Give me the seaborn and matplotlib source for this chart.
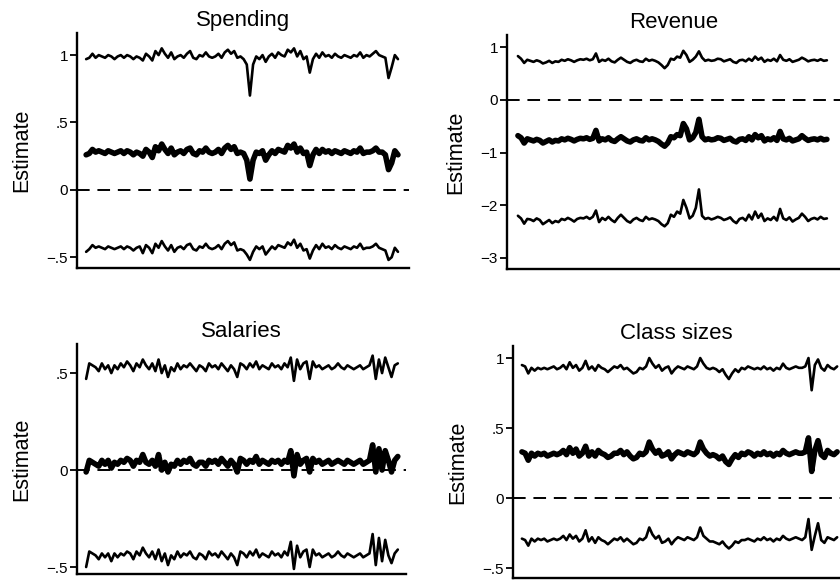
import numpy as np
import pandas as pd
import matplotlib
matplotlib.use("Agg")
import matplotlib.pyplot as plt
import seaborn as sns

# ---------------- data ----------------
panels = ["Spending", "Revenue", "Salaries", "Class sizes"]

spending_upper = [0.97, 0.98, 1.01, 0.98, 1.00, 0.99, 0.98, 1.00, 0.99, 0.97,
                  0.99, 1.00, 0.98, 1.00, 0.99, 0.97, 0.99, 0.98, 0.96, 1.01,
                  0.99, 0.96, 1.03, 1.00, 1.05, 1.01, 0.98, 1.02, 0.97, 0.99,
                  1.00, 0.98, 1.01, 1.03, 0.98, 0.97, 1.00, 0.99, 1.02, 0.99,
                  0.98, 0.99, 1.01, 0.98, 1.02, 1.04, 1.01, 1.03, 0.98, 0.99,
                  0.97, 0.93, 0.70, 0.93, 0.99, 0.97, 1.00, 0.95, 0.99, 1.01,
                  0.98, 1.02, 1.00, 0.99, 1.04, 1.02, 1.05, 0.99, 1.03, 0.97,
                  0.99, 0.87, 0.97, 1.01, 0.98, 1.02, 0.99, 1.00, 0.98, 1.01,
                  0.99, 0.98, 1.00, 0.99, 0.98, 1.00, 0.99, 1.02, 0.98, 1.00,
                  0.99, 1.01, 1.03, 1.00, 0.99, 0.98, 0.83, 0.91, 1.00, 0.97]
spending_est = [0.26, 0.27, 0.30, 0.28, 0.29, 0.28, 0.27, 0.29, 0.28, 0.27,
                0.28, 0.29, 0.27, 0.29, 0.28, 0.26, 0.28, 0.27, 0.25, 0.30,
                0.28, 0.24, 0.32, 0.29, 0.34, 0.30, 0.27, 0.31, 0.26, 0.28,
                0.29, 0.27, 0.30, 0.31, 0.27, 0.26, 0.29, 0.28, 0.31, 0.28,
                0.27, 0.28, 0.30, 0.27, 0.31, 0.33, 0.30, 0.32, 0.27, 0.28,
                0.27, 0.22, 0.08, 0.22, 0.28, 0.27, 0.29, 0.22, 0.26, 0.29,
                0.27, 0.30, 0.29, 0.28, 0.33, 0.31, 0.34, 0.28, 0.31, 0.27,
                0.28, 0.18, 0.26, 0.30, 0.27, 0.30, 0.28, 0.29, 0.27, 0.29,
                0.28, 0.27, 0.29, 0.28, 0.27, 0.29, 0.28, 0.31, 0.27, 0.28,
                0.28, 0.29, 0.31, 0.28, 0.28, 0.26, 0.15, 0.20, 0.29, 0.26]
spending_lower = [-0.46, -0.44, -0.41, -0.43, -0.42, -0.43, -0.44, -0.42, -0.43, -0.44,
                  -0.43, -0.42, -0.44, -0.42, -0.43, -0.45, -0.43, -0.42, -0.47, -0.41,
                  -0.43, -0.47, -0.40, -0.43, -0.38, -0.42, -0.45, -0.41, -0.46, -0.43,
                  -0.42, -0.44, -0.41, -0.40, -0.44, -0.45, -0.42, -0.43, -0.40, -0.43,
                  -0.44, -0.43, -0.41, -0.44, -0.40, -0.38, -0.41, -0.39, -0.45, -0.44,
                  -0.45, -0.48, -0.52, -0.46, -0.42, -0.44, -0.42, -0.48, -0.45, -0.42,
                  -0.44, -0.41, -0.42, -0.43, -0.39, -0.41, -0.37, -0.43, -0.40, -0.45,
                  -0.44, -0.51, -0.45, -0.41, -0.44, -0.40, -0.43, -0.42, -0.44, -0.41,
                  -0.43, -0.44, -0.42, -0.43, -0.44, -0.42, -0.43, -0.40, -0.44, -0.43,
                  -0.43, -0.42, -0.40, -0.43, -0.44, -0.45, -0.52, -0.50, -0.43, -0.46]

revenue_upper = [0.83, 0.78, 0.70, 0.76, 0.74, 0.72, 0.75, 0.73, 0.69, 0.71,
                 0.74, 0.70, 0.73, 0.72, 0.76, 0.74, 0.77, 0.75, 0.72, 0.75,
                 0.77, 0.76, 0.78, 0.75, 0.77, 0.88, 0.72, 0.76, 0.74, 0.78,
                 0.73, 0.71, 0.76, 0.80, 0.76, 0.72, 0.70, 0.74, 0.76, 0.73,
                 0.72, 0.78, 0.74, 0.76, 0.74, 0.71, 0.66, 0.60, 0.66, 0.78,
                 0.76, 0.82, 0.80, 0.93, 0.85, 0.72, 0.76, 0.82, 0.92, 0.80,
                 0.74, 0.76, 0.74, 0.75, 0.78, 0.77, 0.73, 0.75, 0.77, 0.72,
                 0.70, 0.75, 0.76, 0.73, 0.78, 0.74, 0.82, 0.76, 0.80, 0.72,
                 0.76, 0.74, 0.78, 0.73, 0.85, 0.76, 0.74, 0.77, 0.72, 0.74,
                 0.76, 0.80, 0.77, 0.73, 0.75, 0.76, 0.74, 0.77, 0.74, 0.75]
revenue_est = [-0.68, -0.72, -0.82, -0.74, -0.76, -0.78, -0.75, -0.77, -0.82, -0.79,
               -0.76, -0.80, -0.77, -0.78, -0.74, -0.76, -0.73, -0.75, -0.78, -0.75,
               -0.73, -0.74, -0.72, -0.75, -0.73, -0.58, -0.78, -0.74, -0.76, -0.72,
               -0.77, -0.79, -0.74, -0.70, -0.74, -0.78, -0.80, -0.76, -0.74, -0.77,
               -0.78, -0.72, -0.76, -0.74, -0.76, -0.79, -0.84, -0.88, -0.82, -0.70,
               -0.72, -0.66, -0.68, -0.45, -0.55, -0.76, -0.72, -0.62, -0.37, -0.70,
               -0.76, -0.74, -0.76, -0.75, -0.72, -0.73, -0.77, -0.75, -0.73, -0.78,
               -0.80, -0.75, -0.74, -0.77, -0.70, -0.76, -0.66, -0.72, -0.68, -0.78,
               -0.74, -0.76, -0.72, -0.77, -0.60, -0.74, -0.76, -0.73, -0.78, -0.76,
               -0.74, -0.68, -0.73, -0.77, -0.75, -0.74, -0.76, -0.73, -0.76, -0.75]
revenue_lower = [-2.20, -2.25, -2.35, -2.26, -2.27, -2.30, -2.25, -2.28, -2.36, -2.32,
                 -2.28, -2.34, -2.30, -2.32, -2.26, -2.28, -2.24, -2.27, -2.31, -2.26,
                 -2.24, -2.25, -2.22, -2.26, -2.22, -2.10, -2.32, -2.24, -2.28, -2.22,
                 -2.28, -2.32, -2.24, -2.18, -2.24, -2.30, -2.33, -2.27, -2.24, -2.28,
                 -2.30, -2.22, -2.27, -2.25, -2.27, -2.30, -2.36, -2.40, -2.34, -2.18,
                 -2.22, -2.12, -2.16, -1.90, -2.05, -2.25, -2.20, -2.05, -1.70, -2.20,
                 -2.26, -2.24, -2.27, -2.25, -2.22, -2.24, -2.28, -2.26, -2.23, -2.30,
                 -2.34, -2.26, -2.24, -2.29, -2.18, -2.27, -2.12, -2.24, -2.16, -2.30,
                 -2.25, -2.28, -2.22, -2.29, -2.07, -2.25, -2.28, -2.23, -2.31, -2.27,
                 -2.24, -2.16, -2.22, -2.30, -2.26, -2.24, -2.27, -2.22, -2.26, -2.25]

salaries_upper = [0.47, 0.55, 0.54, 0.53, 0.51, 0.55, 0.52, 0.54, 0.50, 0.54,
                  0.52, 0.55, 0.53, 0.56, 0.54, 0.51, 0.55, 0.53, 0.57, 0.54,
                  0.52, 0.55, 0.51, 0.57, 0.50, 0.54, 0.48, 0.53, 0.51, 0.55,
                  0.52, 0.54, 0.53, 0.55, 0.53, 0.51, 0.54, 0.53, 0.51, 0.55,
                  0.53, 0.54, 0.52, 0.55, 0.53, 0.51, 0.54, 0.52, 0.48, 0.55,
                  0.54, 0.52, 0.55, 0.53, 0.56, 0.52, 0.54, 0.53, 0.52, 0.55,
                  0.53, 0.54, 0.52, 0.55, 0.53, 0.58, 0.46, 0.57, 0.52, 0.55,
                  0.56, 0.47, 0.56, 0.53, 0.54, 0.52, 0.53, 0.54, 0.52, 0.53,
                  0.55, 0.53, 0.52, 0.54, 0.53, 0.52, 0.53, 0.54, 0.52, 0.53,
                  0.54, 0.59, 0.47, 0.57, 0.50, 0.58, 0.53, 0.48, 0.54, 0.55]
salaries_est = [-0.01, 0.05, 0.04, 0.03, 0.02, 0.05, 0.03, 0.05, 0.01, 0.04,
                0.03, 0.05, 0.04, 0.06, 0.05, 0.02, 0.05, 0.04, 0.08, 0.04,
                0.03, 0.05, 0.02, 0.08, 0.00, 0.04, -0.01, 0.03, 0.02, 0.05,
                0.03, 0.05, 0.04, 0.06, 0.03, 0.02, 0.04, 0.04, 0.02, 0.05,
                0.04, 0.05, 0.03, 0.06, 0.04, 0.02, 0.05, 0.03, -0.01, 0.06,
                0.05, 0.03, 0.05, 0.04, 0.07, 0.03, 0.05, 0.04, 0.03, 0.05,
                0.04, 0.05, 0.03, 0.05, 0.04, 0.10, -0.03, 0.08, 0.03, 0.05,
                0.06, -0.01, 0.06, 0.04, 0.05, 0.03, 0.04, 0.05, 0.03, 0.04,
                0.05, 0.04, 0.03, 0.05, 0.04, 0.03, 0.04, 0.05, 0.03, 0.04,
                0.05, 0.13, -0.01, 0.11, 0.00, 0.10, 0.05, -0.01, 0.05, 0.07]
salaries_lower = [-0.50, -0.42, -0.43, -0.44, -0.46, -0.43, -0.45, -0.43, -0.47, -0.43,
                  -0.45, -0.43, -0.44, -0.42, -0.43, -0.46, -0.42, -0.44, -0.40, -0.43,
                  -0.45, -0.42, -0.46, -0.41, -0.47, -0.43, -0.49, -0.44, -0.46, -0.42,
                  -0.45, -0.43, -0.44, -0.42, -0.45, -0.46, -0.43, -0.44, -0.46, -0.42,
                  -0.44, -0.43, -0.45, -0.42, -0.44, -0.46, -0.43, -0.45, -0.49, -0.42,
                  -0.43, -0.45, -0.42, -0.44, -0.41, -0.45, -0.43, -0.44, -0.45, -0.42,
                  -0.44, -0.43, -0.45, -0.42, -0.44, -0.37, -0.51, -0.39, -0.45, -0.42,
                  -0.41, -0.50, -0.41, -0.44, -0.43, -0.45, -0.44, -0.43, -0.45, -0.44,
                  -0.42, -0.44, -0.45, -0.43, -0.44, -0.45, -0.44, -0.43, -0.45, -0.44,
                  -0.43, -0.33, -0.49, -0.35, -0.47, -0.36, -0.44, -0.48, -0.43, -0.41]

class_upper = [0.95, 0.94, 0.89, 0.93, 0.91, 0.93, 0.92, 0.93, 0.92, 0.93,
               0.94, 0.92, 0.93, 0.95, 0.92, 0.97, 0.93, 0.95, 0.91, 0.93,
               0.98, 0.92, 0.94, 0.91, 0.95, 0.93, 0.92, 0.90, 0.92, 0.94,
               0.93, 0.95, 0.92, 0.93, 0.91, 0.89, 0.90, 0.93, 0.92, 0.94,
               1.00, 0.96, 0.93, 0.95, 0.91, 0.93, 0.94, 0.89, 0.92, 0.94,
               0.93, 0.92, 0.94, 0.93, 0.92, 0.94, 1.00, 0.96, 0.93, 0.92,
               0.93, 0.92, 0.90, 0.92, 0.88, 0.85, 0.89, 0.92, 0.90, 0.93,
               0.92, 0.94, 0.93, 0.92, 0.93, 0.92, 0.94, 0.92, 0.93, 0.91,
               0.93, 0.92, 0.96, 0.93, 0.92, 0.93, 0.94, 0.93, 0.93, 0.94,
               1.00, 0.77, 0.95, 0.99, 0.93, 0.91, 0.95, 0.93, 0.92, 0.94]
class_est = [0.33, 0.32, 0.27, 0.32, 0.30, 0.32, 0.31, 0.32, 0.30, 0.31,
             0.32, 0.31, 0.32, 0.34, 0.31, 0.36, 0.32, 0.35, 0.30, 0.32,
             0.37, 0.30, 0.33, 0.30, 0.34, 0.32, 0.31, 0.29, 0.30, 0.32,
             0.32, 0.34, 0.31, 0.33, 0.30, 0.28, 0.29, 0.32, 0.31, 0.33,
             0.40, 0.35, 0.32, 0.34, 0.30, 0.31, 0.33, 0.28, 0.31, 0.33,
             0.32, 0.31, 0.33, 0.32, 0.31, 0.33, 0.40, 0.35, 0.32, 0.30,
             0.31, 0.30, 0.28, 0.30, 0.26, 0.24, 0.28, 0.31, 0.29, 0.32,
             0.31, 0.33, 0.32, 0.30, 0.32, 0.31, 0.33, 0.31, 0.32, 0.30,
             0.32, 0.31, 0.34, 0.32, 0.31, 0.32, 0.33, 0.32, 0.32, 0.33,
             0.43, 0.19, 0.34, 0.41, 0.31, 0.29, 0.34, 0.32, 0.31, 0.33]
class_lower = [-0.29, -0.30, -0.34, -0.29, -0.31, -0.29, -0.30, -0.29, -0.31, -0.30,
               -0.29, -0.30, -0.29, -0.27, -0.30, -0.26, -0.29, -0.27, -0.31, -0.29,
               -0.23, -0.31, -0.28, -0.32, -0.28, -0.30, -0.31, -0.33, -0.31, -0.29,
               -0.30, -0.28, -0.31, -0.29, -0.31, -0.33, -0.32, -0.29, -0.30, -0.28,
               -0.21, -0.26, -0.29, -0.27, -0.32, -0.31, -0.29, -0.33, -0.30, -0.28,
               -0.29, -0.30, -0.28, -0.29, -0.30, -0.28, -0.21, -0.27, -0.29, -0.31,
               -0.31, -0.32, -0.33, -0.31, -0.34, -0.36, -0.34, -0.31, -0.32, -0.30,
               -0.30, -0.29, -0.30, -0.31, -0.29, -0.30, -0.28, -0.30, -0.29, -0.31,
               -0.29, -0.30, -0.27, -0.29, -0.30, -0.29, -0.28, -0.29, -0.30, -0.28,
               -0.15, -0.37, -0.27, -0.18, -0.30, -0.32, -0.28, -0.29, -0.30, -0.28]

yticks = {
    "Spending": [-0.5, 0, 0.5, 1],
    "Revenue": [-3, -2, -1, 0, 1],
    "Salaries": [-0.5, 0, 0.5],
    "Class sizes": [-0.5, 0, 0.5, 1],
}
yticklabels = {
    "Spending": ["\u2212.5", "0", ".5", "1"],
    "Revenue": ["\u22123", "\u22122", "\u22121", "0", "1"],
    "Salaries": ["\u2212.5", "0", ".5"],
    "Class sizes": ["\u2212.5", "0", ".5", "1"],
}

series = {
    "Spending": (spending_upper, spending_est, spending_lower),
    "Revenue": (revenue_upper, revenue_est, revenue_lower),
    "Salaries": (salaries_upper, salaries_est, salaries_lower),
    "Class sizes": (class_upper, class_est, class_lower),
}

# ---------------- layout ----------------
sns.set_style("ticks")
plt.rcParams["font.family"] = ["Liberation Sans", "DejaVu Sans"]
plt.rcParams["text.color"] = "black"
plt.rcParams["axes.labelcolor"] = "black"
plt.rcParams["ytick.color"] = "black"

W, H = 840, 582
fig = plt.figure(figsize=(W / 100, H / 100), dpi=100)

# axes boxes in pixel coords: (left, right, top, bottom)
boxes = {
    "Spending": (77, 409, 33, 268),
    "Revenue": (507, 840, 35, 269),
    "Salaries": (77, 406, 344, 574),
    "Class sizes": (513, 840, 346, 578),
}
ylims = {
    "Spending": (-0.58, 1.164),
    "Revenue": (-3.21, 1.23),
    "Salaries": (-0.536, 0.65),
    "Class sizes": (-0.571, 1.086),
}
xlims = {
    "Spending": (-2.9, 102.5),
    "Revenue": (-3.5, 103.2),
    "Salaries": (-2.9, 101.6),
    "Class sizes": (-2.8, 99.9),
}

for name in panels:
    l, r, t, b = boxes[name]
    ax = fig.add_axes([l / W, 1 - b / H, (r - l) / W, (b - t) / H])
    up, est, lo = series[name]
    idx = np.arange(len(est))
    df = pd.DataFrame({"x": np.concatenate([idx, idx, idx]),
                       "y": np.concatenate([up, est, lo]),
                       "line": ["upper"] * len(up) + ["estimate"] * len(est) + ["lower"] * len(lo)})
    ax.axhline(0, color="black", lw=1.4, dashes=(6.5, 4), zorder=1)
    sns.lineplot(data=df, x="x", y="y", units="line", estimator=None,
                 hue="line", size="line",
                 hue_order=["upper", "estimate", "lower"],
                 palette={"upper": "black", "estimate": "black", "lower": "black"},
                 sizes={"upper": 1.9, "estimate": 4.0, "lower": 1.9},
                 legend=False, ax=ax, zorder=3)
    ax.set_xlim(*xlims[name])
    ax.set_ylim(*ylims[name])
    ax.set_xticks([])
    ax.set_yticks(yticks[name])
    ax.set_yticklabels(yticklabels[name], fontsize=11)
    ax.set_xlabel("")
    ax.set_ylabel("Estimate", fontsize=15.5, labelpad=10)
    ax.set_title(name, fontsize=16, pad=5)
    for s in ["top", "right"]:
        ax.spines[s].set_visible(False)
    for s in ["left", "bottom"]:
        ax.spines[s].set_linewidth(1.7)
        ax.spines[s].set_color("black")
    ax.tick_params(axis="y", length=5, width=1.3, color="black", pad=1.5)

fig.savefig("out.png", dpi=100)
